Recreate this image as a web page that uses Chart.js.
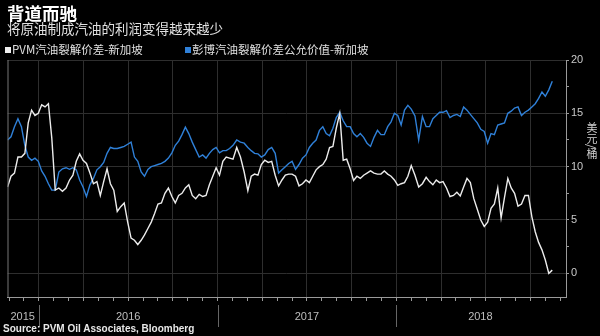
<!DOCTYPE html>
<html>
<head>
<meta charset="utf-8">
<script src="https://cdn.jsdelivr.net/npm/chart.js@4.4.1/dist/chart.umd.min.js"></script>
<style>
  html, body { margin: 0; padding: 0; background: #000; }
  #wrap { position: relative; width: 600px; height: 336px; overflow: hidden; background: #000;
    font-family: "Noto Sans CJK SC", "Noto Sans", sans-serif; }
  #chart { position: absolute; left: 0; top: 0; }
  .txt { position: absolute; white-space: nowrap; line-height: 1; }
  #title { left: 7px; top: 4px; font-size: 17.5px; font-weight: bold; color: #fff; }
  #subtitle { left: 7px; top: 22px; font-size: 13.5px; color: #e0e0e0; }
  #legend1, #legend2 { top: 44px; font-size: 11.5px; color: #e0e0e0; }
  #legend1 { left: 5px; }
  #legend2 { left: 185px; }
  .sq { display: inline-block; width: 6px; height: 6px; margin-right: 1px; vertical-align: 1px; }
  #unit { left: 586px; top: 122px; font-size: 11px; color: #d0d0d0; writing-mode: vertical-rl; }
  #source { left: 3px; top: 324px; font-family: "Liberation Sans", sans-serif; font-size: 10px;
    font-weight: bold; color: #e8e8e8; }
</style>
</head>
<body>
<div id="wrap">
  <canvas id="chart" width="600" height="336"></canvas>
  <div class="txt" id="title">背道而驰</div>
  <div class="txt" id="subtitle">将原油制成汽油的利润变得越来越少</div>
  <div class="txt" id="legend1"><span class="sq" style="background:#f0f0f0"></span>PVM汽油裂解价差-新加坡</div>
  <div class="txt" id="legend2"><span class="sq" style="background:#2f80d8"></span>彭博汽油裂解价差公允价值-新加坡</div>
  <div class="txt" id="unit">美元/桶</div>
  <div class="txt" id="source">Source: PVM Oil Associates, Bloomberg</div>
</div>
<script>
// weekly readings, first week starts 2015-10-29
const firstWeek = [2015, 9, 29];

// PVM gasoline crack, Singapore (USD/bbl)
const pvmSpread = [
  8.1, 9.1, 9.4, 10.9, 10.9, 11.25, 14.1, 15.3, 14.8, 15.0,
  15.8, 15.6, 15.9, 12.7, 7.8, 8.0, 7.7, 8.0, 8.75, 9.2,
  10.5, 11.2, 10.6, 10.3, 9.4, 8.4, 8.6, 7.3, 8.6, 9.8,
  8.4, 7.8, 5.8, 6.25, 6.6, 4.8, 3.3, 3.1, 2.7, 3.1,
  3.6, 4.2, 4.8, 5.6, 6.5, 6.6, 7.5, 8.0, 7.2, 6.6,
  7.3, 7.5, 8.0, 8.3, 7.3, 7.0, 7.4, 7.2, 7.3, 8.3,
  9.1, 9.9, 9.2, 10.5, 10.9, 10.8, 10.7, 11.8, 10.9, 9.5,
  7.75, 9.1, 9.3, 9.2, 10.2, 10.6, 10.4, 10.5, 9.2, 8.2,
  8.75, 9.2, 9.3, 9.3, 9.1, 8.2, 8.4, 8.75, 8.5, 9.1,
  9.7, 10.0, 10.2, 10.7, 11.8, 11.9, 13.6, 15.0, 10.6, 10.7,
  9.8, 8.7, 9.1, 8.9, 9.2, 9.4, 9.6, 9.4, 9.3, 9.3,
  9.6, 9.3, 9.1, 8.75, 8.25, 8.4, 8.5, 9.1, 10.1, 9.2,
  8.1, 8.4, 9.0, 8.6, 8.3, 8.75, 8.5, 8.6, 8.0, 7.2,
  7.3, 7.6, 7.25, 8.1, 8.9, 8.5, 7.0, 6.0, 5.0, 4.4,
  4.8, 6.1, 6.5, 8.0, 5.2, 7.1, 8.9, 8.0, 7.5, 6.3,
  6.5, 7.3, 7.3, 5.3, 3.9, 2.9, 2.2, 1.25, 0, 0.3
];

// Bloomberg gasoline crack fair value, Singapore (USD/bbl)
const bbgFairValue = [
  12.5, 12.8, 13.75, 14.5, 13.75, 12.0, 10.9, 10.6, 10.8, 10.5,
  9.6, 9.1, 8.4, 7.8, 7.8, 9.5, 9.8, 9.9, 9.75, 9.9,
  9.7, 8.75, 8.1, 7.2, 8.3, 8.9, 9.7, 10.0, 10.4, 11.25,
  11.8, 11.7, 11.7, 11.8, 11.9, 12.1, 12.3, 10.9, 10.5, 9.5,
  9.1, 9.75, 10.0, 10.1, 10.2, 10.3, 10.5, 10.8, 11.3, 12.0,
  12.4, 13.0, 13.7, 13.1, 12.3, 11.6, 10.9, 11.1, 10.8, 11.25,
  11.6, 11.8, 11.3, 11.5, 11.5, 11.7, 12.0, 12.5, 12.3, 12.2,
  11.8, 11.5, 11.25, 11.2, 10.9, 11.1, 11.6, 11.8, 11.25, 9.4,
  9.7, 10.0, 10.3, 10.5, 9.75, 10.2, 10.8, 11.1, 11.8, 12.2,
  12.5, 13.4, 13.75, 13.1, 12.9, 13.6, 14.6, 15.1, 14.3, 13.75,
  13.75, 13.1, 12.8, 13.1, 12.75, 12.2, 11.9, 12.75, 13.4, 13.0,
  13.0, 13.75, 14.2, 15.0, 14.8, 13.9, 15.3, 15.75, 15.4, 14.75,
  12.5, 14.7, 13.75, 13.75, 14.5, 14.8, 15.1, 15.1, 15.25, 14.6,
  14.8, 14.9, 14.7, 15.6, 15.3, 14.9, 14.5, 14.1, 13.5, 13.3,
  12.2, 13.1, 13.0, 13.9, 14.0, 14.1, 15.0, 15.2, 15.5, 15.6,
  14.8, 15.1, 15.3, 15.6, 15.9, 16.4, 17.0, 16.6, 17.2, 18.0
];

const yearLabels = ["2015", "2016", "2017", "2018"];
const yearLabelPos = [2015.91, 2016.5, 2017.5, 2018.47];
const yearBounds = [2016, 2017, 2018];
const yTicks = [0, 2.5, 5, 7.5, 10, 12.5, 15, 17.5, 20];

const X_MIN = 2015.825, X_MAX = 2018.949;
const gridColor = "#2e2e2e";
const axisColor = "#9a9a9a";

// date -> fractional year, months split evenly so month ticks line up
function yearFrac(d) {
  const y = d.getUTCFullYear(), m = d.getUTCMonth(), day = d.getUTCDate();
  const dim = new Date(Date.UTC(y, m + 1, 0)).getUTCDate();
  return y + (m + (day - 1) / dim) / 12;
}

const weekX = pvmSpread.map((_, i) =>
  yearFrac(new Date(Date.UTC(firstWeek[0], firstWeek[1], firstWeek[2] + 7 * i)))
);

// month ticks inside the range, plus the year label spots
const monthTicks = [];
for (let y = 2015; y <= 2018; y++) {
  for (let m = 0; m < 12; m++) {
    const v = y + m / 12;
    if (v >= X_MIN && v <= X_MAX) monthTicks.push(v);
  }
}
const xTicks = monthTicks.concat(yearLabelPos.filter(p => !monthTicks.some(v => Math.abs(v - p) < 1e-6)))
  .sort((a, b) => a - b);

const isMonth = v => Math.abs(v * 12 - Math.round(v * 12)) < 1e-6;
const isQuarter = v => isMonth(v) && Math.round(v * 12) % 3 === 0;

const yearSeparators = {
  id: "yearSeparators",
  afterDraw(chart) {
    const ctx = chart.ctx;
    const xs = chart.scales.x;
    ctx.save();
    ctx.strokeStyle = "#666";
    ctx.lineWidth = 1;
    yearBounds.forEach((yr) => {
      const px = Math.round(xs.getPixelForValue(yr)) + 0.5;
      ctx.beginPath();
      ctx.moveTo(px, 305);
      ctx.lineTo(px, 327);
      ctx.stroke();
    });
    // left frame edge
    const a = chart.chartArea;
    ctx.strokeStyle = "#777";
    ctx.beginPath();
    ctx.moveTo(a.left + 0.5, a.top);
    ctx.lineTo(a.left + 0.5, a.bottom);
    ctx.stroke();
    ctx.restore();
  },
};

Chart.defaults.font.family = "'Liberation Sans', sans-serif";

new Chart(document.getElementById("chart"), {
  type: "line",
  data: {
    datasets: [
      {
        label: "PVM汽油裂解价差-新加坡",
        data: pvmSpread.map((v, i) => ({ x: weekX[i], y: v })),
        borderColor: "#ececec",
        borderWidth: 1.4,
        pointRadius: 0,
        tension: 0,
      },
      {
        label: "彭博汽油裂解价差公允价值-新加坡",
        data: bbgFairValue.map((v, i) => ({ x: weekX[i], y: v })),
        borderColor: "#2f80d8",
        borderWidth: 1.4,
        pointRadius: 0,
        tension: 0,
      },
    ],
  },
  options: {
    responsive: false,
    animation: false,
    layout: { padding: { top: 60, left: 1, right: 0, bottom: 0 } },
    plugins: { legend: { display: false }, tooltip: { enabled: false } },
    scales: {
      x: {
        type: "linear",
        min: X_MIN,
        max: X_MAX,
        afterBuildTicks: (s) => { s.ticks = xTicks.map(v => ({ value: v })); },
        afterFit: (s) => { s.height = 39; },
        grid: {
          color: (c) => (c.tick && isQuarter(c.tick.value) ? gridColor : "transparent"),
          tickColor: (c) => (c.tick && isMonth(c.tick.value) ? axisColor : "transparent"),
          tickLength: 4,
        },
        border: { display: true, color: axisColor, width: 1 },
        ticks: {
          autoSkip: false,
          maxRotation: 0,
          minRotation: 0,
          padding: 9,
          color: "#bdbdbd",
          font: { size: 11 },
          callback: (v) => {
            const i = yearLabelPos.findIndex(p => Math.abs(p - v) < 1e-6);
            return i >= 0 ? yearLabels[i] : "";
          },
        },
      },
      y: {
        position: "right",
        min: -2.22,
        max: 20,
        afterBuildTicks: (s) => { s.ticks = yTicks.map(v => ({ value: v })); },
        afterFit: (s) => { s.width = 34; },
        grid: {
          color: (c) => (c.tick && c.tick.value % 5 === 0 ? gridColor : "transparent"),
          tickColor: axisColor,
          tickLength: 3,
        },
        border: { display: true, color: axisColor, width: 1 },
        ticks: {
          padding: 2,
          color: "#c8c8c8",
          font: { size: 11 },
          callback: (v) => (v % 5 === 0 ? String(v) : ""),
        },
      },
    },
  },
  plugins: [yearSeparators],
});
</script>
</body>
</html>
